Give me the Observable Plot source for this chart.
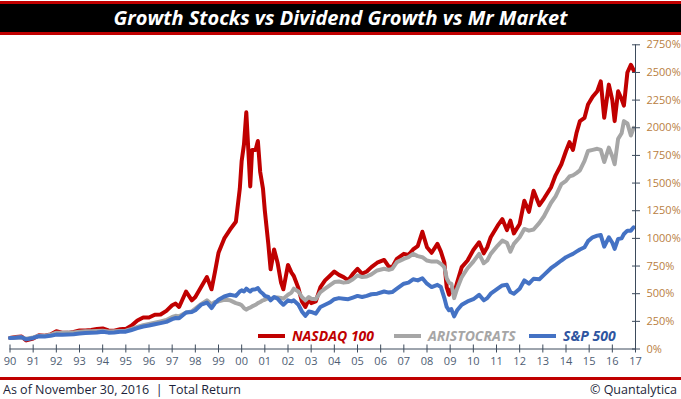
<!DOCTYPE html>
<html><head><meta charset="utf-8">
<script src="https://cdn.jsdelivr.net/npm/d3@7"></script>
<script src="https://cdn.jsdelivr.net/npm/@observablehq/plot@0.6"></script>
<style>
body{margin:0;background:#fff;width:681px;height:399px;overflow:hidden;position:relative;font-family:"Open Sans",sans-serif}
#title{position:absolute;left:0;top:1px;width:681px;height:28px;background:#000;border-top:3px solid #c00000;border-bottom:3px solid #c00000;color:#fff;font:italic 700 20px "Open Sans";text-align:center;line-height:28px}
#chart{position:absolute;left:0;top:36px}
.lg{position:absolute;top:326px;display:flex;align-items:center;font:italic 700 14px "Open Sans";white-space:nowrap}
.lg span.sw{display:inline-block;width:27px;height:4px;margin-right:7px}
#footer{position:absolute;top:377px;left:0;width:681px;height:19px;border-top:3px solid #c00000;font:12.5px "Open Sans";color:#1c1f3a}
#footer .l{position:absolute;left:3px;top:1px}
#footer .r{position:absolute;right:4px;top:1px}
</style></head><body>
<div id="title">Growth Stocks vs Dividend Growth vs Mr Market</div>
<div id="chart"></div>
<div class="lg" style="left:258px;color:#c00000"><span class="sw" style="background:#c00000"></span>NASDAQ 100</div>
<div class="lg" style="left:394px;color:#a6a6a6"><span class="sw" style="background:#a6a6a6"></span>ARISTOCRATS</div>
<div class="lg" style="left:529px;color:#2f55a0"><span class="sw" style="background:#4472c4"></span>S&amp;P 500</div>
<div id="footer"><span class="l">As of November 30, 2016&nbsp; | &nbsp;Total Return</span><span class="r">© Quantalytica</span></div>
<script>
const dates = [1990.00,1990.25,1990.50,1990.70,1991.00,1991.25,1991.50,1991.75,1992.00,1992.25,1992.50,1992.75,1993.00,1993.25,1993.50,1993.75,1994.00,1994.25,1994.50,1994.75,1995.00,1995.25,1995.50,1995.75,1996.00,1996.25,1996.50,1996.75,1997.00,1997.15,1997.30,1997.60,1997.85,1998.00,1998.25,1998.50,1998.70,1998.85,1999.00,1999.25,1999.50,1999.75,1999.92,2000.00,2000.10,2000.20,2000.30,2000.37,2000.45,2000.60,2000.70,2000.80,2000.92,2001.00,2001.15,2001.25,2001.40,2001.55,2001.70,2001.80,2002.00,2002.15,2002.25,2002.45,2002.60,2002.75,2002.90,2003.00,2003.20,2003.40,2003.60,2003.80,2004.00,2004.20,2004.40,2004.60,2004.80,2005.00,2005.20,2005.40,2005.60,2005.85,2006.15,2006.35,2006.50,2006.70,2007.00,2007.20,2007.40,2007.60,2007.80,2008.00,2008.20,2008.45,2008.60,2008.75,2008.85,2008.95,2009.05,2009.17,2009.30,2009.50,2009.75,2010.00,2010.25,2010.45,2010.60,2010.75,2011.05,2011.25,2011.45,2011.60,2011.75,2012.00,2012.20,2012.40,2012.60,2012.85,2013.05,2013.35,2013.55,2013.80,2014.00,2014.15,2014.30,2014.45,2014.60,2014.80,2014.95,2015.15,2015.35,2015.50,2015.65,2015.85,2016.00,2016.10,2016.25,2016.40,2016.50,2016.65,2016.80,2016.92];
const nasdaq100 = [100,108,112,78,95,125,120,132,160,148,146,155,168,168,172,180,186,168,166,178,182,212,258,285,285,310,312,345,395,410,380,520,440,470,560,650,540,700,870,1000,1080,1150,1450,1700,1850,2140,1750,1470,1800,1800,1880,1600,1450,1250,950,720,900,780,600,540,760,690,660,550,430,380,450,415,430,560,620,660,700,670,650,620,680,725,680,700,740,780,805,745,740,815,860,850,900,930,1060,920,870,950,880,780,560,490,545,500,600,740,800,895,965,865,920,1010,1115,1175,1075,1160,1045,1130,1340,1240,1430,1300,1360,1460,1570,1670,1790,1870,1800,1950,2060,2090,2210,2280,2330,2420,2090,2390,2250,2060,2330,2260,2200,2500,2570,2520];
const aristocrats = [100,103,106,92,104,120,120,128,148,146,150,150,156,160,160,162,165,158,160,163,166,182,200,215,226,238,250,262,290,300,295,330,340,365,405,440,405,425,430,445,440,415,405,395,370,355,370,375,385,400,415,425,440,445,460,450,465,465,462,455,490,510,545,520,470,440,470,455,450,515,545,575,605,610,600,605,630,665,650,655,675,710,725,715,725,785,815,830,860,840,830,800,790,790,770,740,640,600,590,460,545,650,730,790,860,775,800,860,935,980,960,880,950,1010,1085,1070,1080,1140,1200,1320,1380,1490,1520,1560,1570,1590,1615,1700,1790,1800,1810,1800,1690,1820,1740,1670,1900,1950,2060,2040,1930,2000];
const sp500 = [100,102,106,87,100,115,114,120,130,128,132,134,140,145,147,150,155,148,150,155,157,172,188,203,212,224,234,245,270,280,278,330,335,350,400,420,370,415,445,475,490,480,520,530,520,545,530,520,535,540,550,520,500,480,470,440,470,455,420,400,440,430,440,400,340,300,340,335,320,380,400,420,450,460,455,450,465,480,470,480,495,500,520,510,515,545,590,600,630,620,640,590,560,580,560,460,380,350,360,295,350,400,430,450,490,440,460,500,545,575,580,515,500,545,620,590,635,630,670,730,760,800,830,845,860,880,900,920,975,1010,1025,1030,925,1010,960,905,995,1000,1040,1070,1070,1100];
const yearTicks = d3.range(1990, 2018);
const pctTicks = d3.range(0, 2751, 250);
const axisColor = "#3d4b5c";

const chart = Plot.plot({
  width: 681, height: 341,
  marginLeft: 9.5, marginRight: 46, marginTop: 8.3, marginBottom: 28.5,
  style: {fontFamily: "Open Sans", background: "transparent"},
  x: {domain: [1990, 2017]},
  y: {domain: [0, 2750]},
  marks: [
    Plot.line(dates, {x: dates, y: nasdaq100, stroke: "#c00000", strokeWidth: 4}),
    Plot.line(dates, {x: dates, y: aristocrats, stroke: "#a6a6a6", strokeWidth: 4}),
    Plot.line(dates, {x: dates, y: sp500, stroke: "#4472c4", strokeWidth: 4}),
    Plot.ruleY([0], {stroke: axisColor}),
    Plot.ruleX([2017], {stroke: axisColor}),
    Plot.axisX({ticks: yearTicks, tickSize: 8, dy: -4, tickPadding: 4, stroke: axisColor, color: "#4e5d73", fontSize: 11,
      tickFormat: d => String(d % 100).padStart(2, "0"), label: null}),
    Plot.axisY({anchor: "right", ticks: pctTicks, tickSize: 8, dx: -4, tickPadding: 7, stroke: axisColor, color: "#b9803f", fontSize: 11,
      tickFormat: d => d + "%", label: null})
  ]
});
document.getElementById("chart").appendChild(chart);
</script>
</body></html>
